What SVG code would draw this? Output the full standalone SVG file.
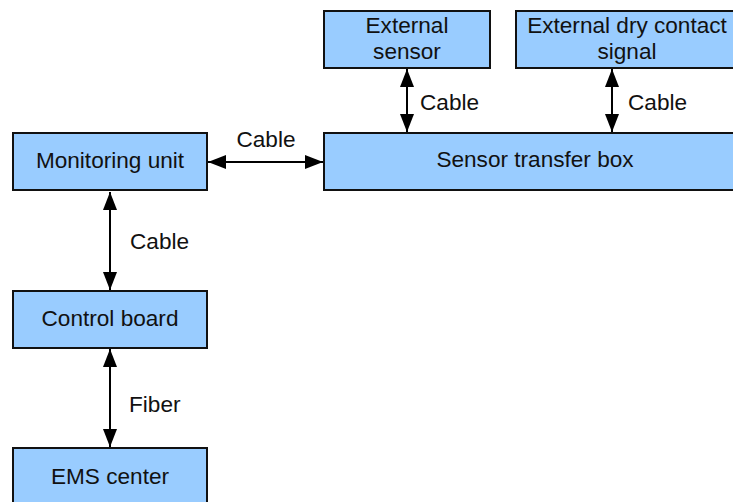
<svg xmlns="http://www.w3.org/2000/svg" width="733" height="502" viewBox="0 0 733 502">
  <style>
    .box { fill: #99CCFF; stroke: #111; stroke-width: 2; }
    .lbl { font-family: "Liberation Sans", Arial, sans-serif; font-size: 22.6px; fill: #111; }
    .mid { text-anchor: middle; }
    .wire { stroke: #000; stroke-width: 2; fill: none; marker-start: url(#head); marker-end: url(#head); }
  </style>
  <defs>
    <marker id="head" viewBox="0 0 18 14" refX="18" refY="7" markerWidth="18" markerHeight="14" markerUnits="userSpaceOnUse" orient="auto-start-reverse">
      <path d="M0,0 L18,7 L0,14 Z" fill="#000"/>
    </marker>
  </defs>

  <rect width="733" height="502" fill="#fff"/>

  <g id="connectors">
    <line class="wire" x1="208" y1="162" x2="323" y2="162"/>
    <line class="wire" x1="407" y1="69" x2="407" y2="132"/>
    <line class="wire" x1="612" y1="69" x2="612" y2="132"/>
    <line class="wire" x1="110" y1="192" x2="110" y2="290"/>
    <line class="wire" x1="110" y1="349" x2="110" y2="447"/>
    <text class="lbl mid" x="266" y="147">Cable</text>
    <text class="lbl" x="420" y="110">Cable</text>
    <text class="lbl" x="628" y="110">Cable</text>
    <text class="lbl" x="130" y="249">Cable</text>
    <text class="lbl" x="129" y="412">Fiber</text>
  </g>

  <g id="external-sensor">
    <rect class="box" x="324" y="11" width="166" height="57"/>
    <text class="lbl mid" x="407" y="33">External</text>
    <text class="lbl mid" x="407" y="59">sensor</text>
  </g>

  <g id="external-dry-contact">
    <rect class="box" x="516" y="11" width="224" height="57"/>
    <text class="lbl mid" x="627" y="33">External dry contact</text>
    <text class="lbl mid" x="627" y="59">signal</text>
  </g>

  <g id="monitoring-unit">
    <rect class="box" x="13" y="133" width="194" height="57"/>
    <text class="lbl mid" x="110" y="168">Monitoring unit</text>
  </g>

  <g id="sensor-transfer-box">
    <rect class="box" x="324" y="133" width="424" height="57"/>
    <text class="lbl mid" x="535" y="167">Sensor transfer box</text>
  </g>

  <g id="control-board">
    <rect class="box" x="13" y="291" width="194" height="57"/>
    <text class="lbl mid" x="110" y="326">Control board</text>
  </g>

  <g id="ems-center">
    <rect class="box" x="13" y="448" width="194" height="70"/>
    <text class="lbl mid" x="110" y="484">EMS center</text>
  </g>
</svg>
